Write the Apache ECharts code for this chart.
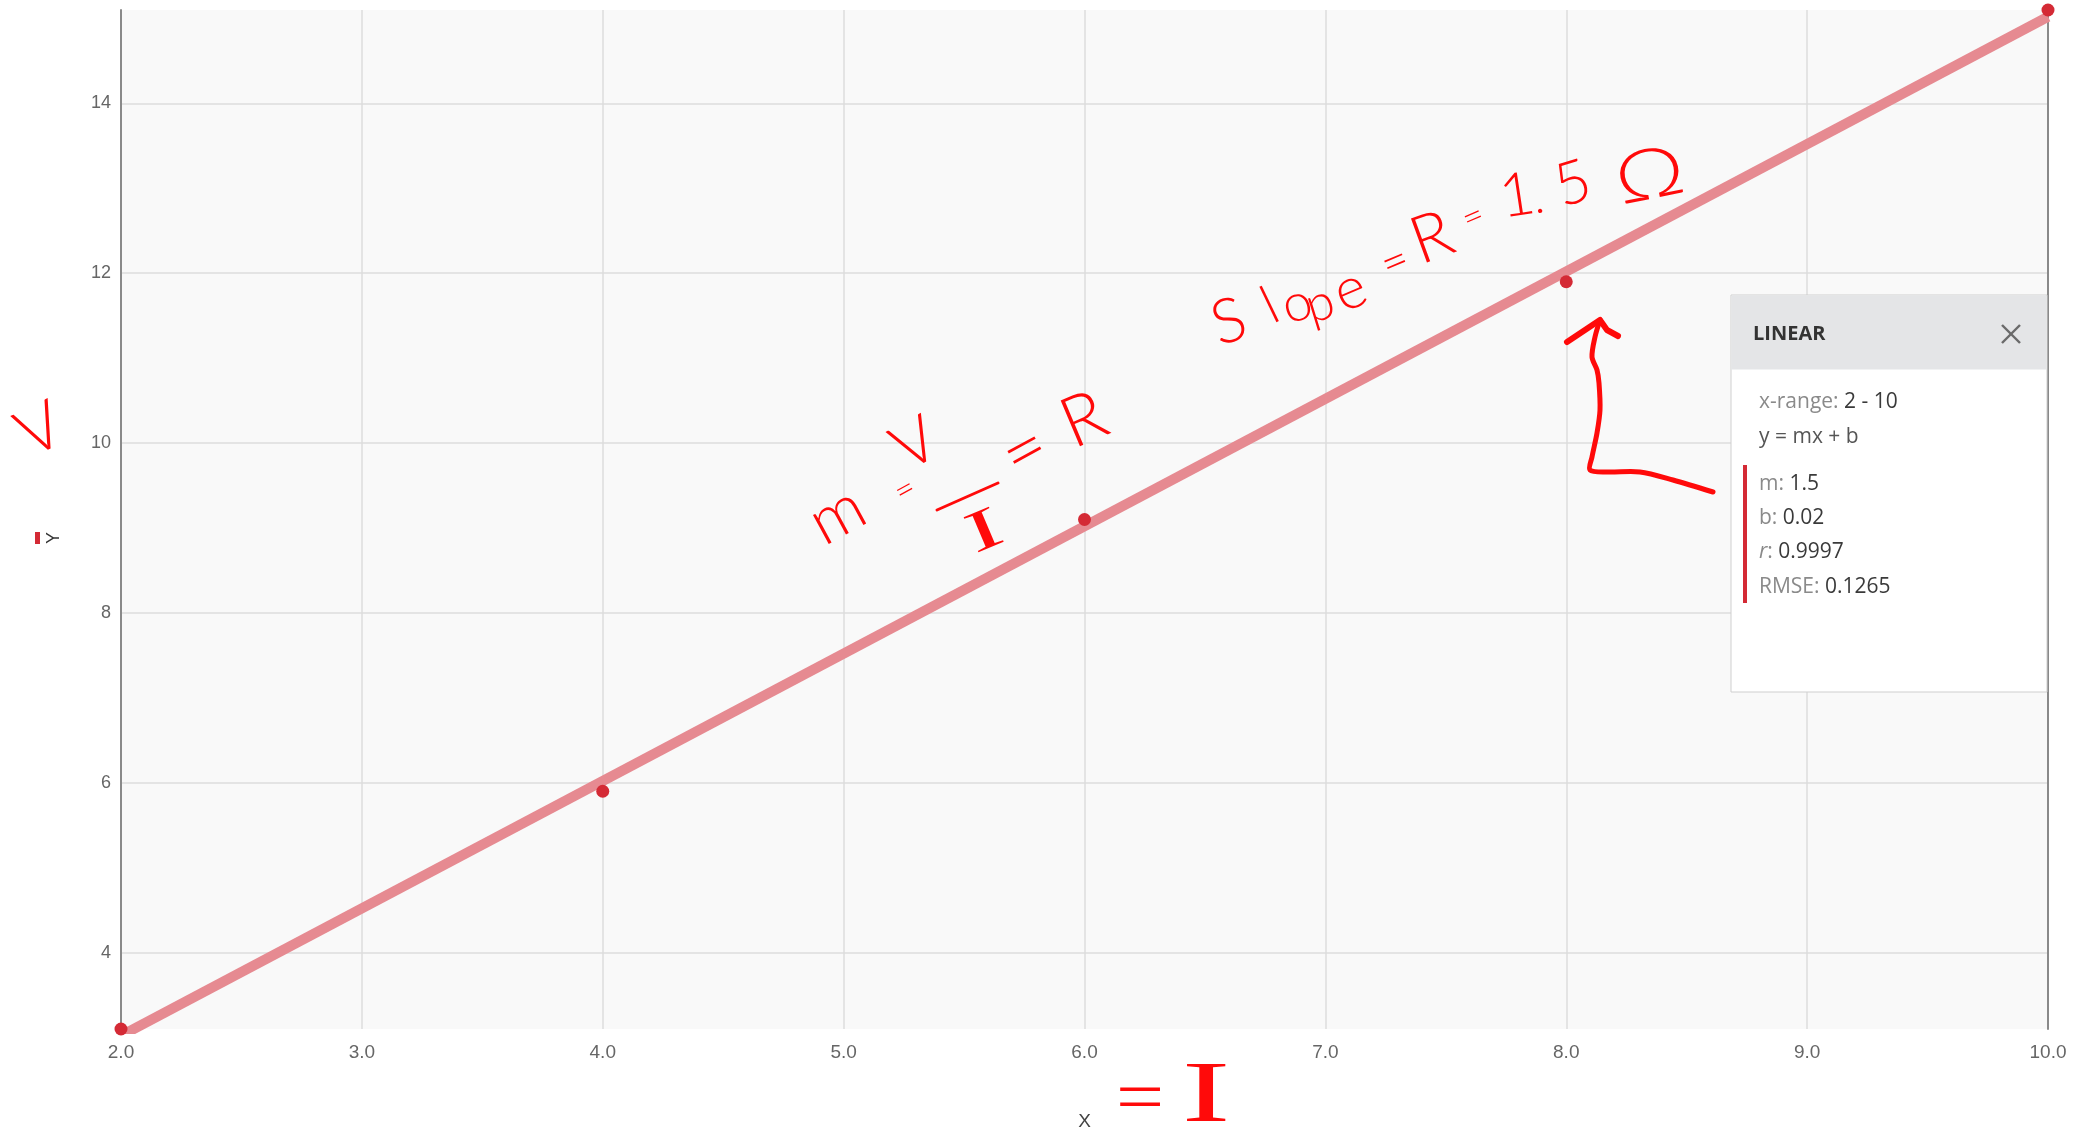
<!DOCTYPE html>
<html>
<head>
<meta charset="utf-8">
<script src="https://cdn.jsdelivr.net/npm/echarts@6/dist/echarts.min.js"></script>
<style>
  html, body { margin: 0; padding: 0; background: #ffffff; }
  #chart { width: 2075px; height: 1139px; }
</style>
</head>
<body>
<div id="chart"></div>
<script>
// Measured current (x) and voltage (y) readings
const xValues = [2, 4, 6, 8, 10];
const yValues = [3.1, 5.9, 9.1, 11.9, 15.1];

// Linear fit results
const fitSlope = 1.5;
const fitIntercept = 0.02;
const fitR = 0.9997;
const fitRmse = 0.1265;

// Axis tick labels
const xTickLabels = ['2.0', '3.0', '4.0', '5.0', '6.0', '7.0', '8.0', '9.0', '10.0'];
const yTickLabels = ['4', '6', '8', '10', '12', '14'];

const xMin = Math.min(...xValues);
const xMax = Math.max(...xValues);
const yMin = Math.min(...yValues);
const yMax = Math.max(...yValues);

const pointData = xValues.map((x, i) => [x, yValues[i]]);
const fitData = [
  [xMin, fitSlope * xMin + fitIntercept],
  [xMax, fitSlope * xMax + fitIntercept]
];

const INK = '#ff0a0a';
const POINT = '#d42a35';
const HAND_FONT = 'Lato, Roboto, "Noto Sans", sans-serif';
const BAR_FONT = '"Liberation Serif", "DejaVu Serif", serif';

// Hand-written notes drawn on top of the plot
const inkGlyphs = [
  // V beside the vertical axis
  { t: 'V', x: 40, y: 430, s: 66, r: 0.45 },
  // m = V / I = R
  { t: 'm', x: 837, y: 515, s: 66, r: 0.5 },
  { t: '=', x: 905, y: 490, s: 34, r: 0.5 },
  { t: 'V', x: 915, y: 444, s: 64, r: 0.5 },
  { t: 'I', x: 985, y: 533, s: 58, r: 0.4, f: BAR_FONT, sx: 1.8 },
  { t: '=', x: 1025, y: 451, s: 74, r: 0.5 },
  { t: 'R', x: 1084, y: 420, s: 70, r: 0.4 },
  // Slope = R = 1.5 Ω
  { t: 'S', x: 1229, y: 322, s: 62, r: 0.3 },
  { t: 'l', x: 1270, y: 306, s: 54, r: 0.45 },
  { t: 'o', x: 1297, y: 304, s: 52, r: 0.3 },
  { t: 'p', x: 1320, y: 304, s: 50, r: 0.3 },
  { t: 'e', x: 1350, y: 290, s: 58, r: 0.4 },
  { t: '=', x: 1395, y: 262, s: 46, r: 0.4 },
  { t: 'R', x: 1432, y: 238, s: 66, r: 0.35 },
  { t: '=', x: 1473, y: 217, s: 36, r: 0.4 },
  { t: '1', x: 1517, y: 196, s: 60, r: 0.15 },
  { t: '.', x: 1540, y: 198, s: 46, r: 0 },
  { t: '5', x: 1573, y: 184, s: 60, r: 0.3 },
  { t: 'Ω', x: 1650, y: 176, s: 70, r: 0.2, sx: 1.25 },
  // = I under the horizontal axis
  { t: '=', x: 1140, y: 1098, s: 96, r: 0 },
  { t: 'I', x: 1206, y: 1098, s: 86, r: 0, f: BAR_FONT, sx: 1.7 }
];

const inkElements = inkGlyphs.map(g => ({
  type: 'text',
  x: g.x,
  y: g.y,
  rotation: g.r,
  scaleX: g.sx || 1,
  z: 200,
  style: {
    text: g.t,
    fill: INK,
    fontSize: g.s,
    fontWeight: g.f ? 'normal' : 300,
    fontFamily: g.f || HAND_FONT,
    textAlign: 'center',
    textVerticalAlign: 'middle',
    align: 'center',
    verticalAlign: 'middle'
  }
}));

// fraction bar of V / I
inkElements.push({
  type: 'line', z: 200,
  shape: { x1: 937, y1: 510, x2: 998, y2: 483 },
  style: { stroke: INK, lineWidth: 3, lineCap: 'round' }
});

// arrow pointing at the (8, 11.9) reading
inkElements.push({
  type: 'polyline', z: 200,
  shape: {
    points: [[1713, 492], [1673, 480], [1640, 472], [1607, 472], [1590, 470], [1592, 457],
             [1597, 433], [1600, 410], [1599, 383], [1597, 370], [1592, 357], [1595, 337], [1600, 320]],
    smooth: 0.3
  },
  style: { stroke: INK, lineWidth: 5, fill: null, lineCap: 'round', lineJoin: 'round' }
});
inkElements.push({
  type: 'polyline', z: 200,
  shape: { points: [[1567, 342], [1600, 320], [1607, 330], [1618, 336]] },
  style: { stroke: INK, lineWidth: 6, fill: null, lineCap: 'round', lineJoin: 'round' }
});

// Fit result panel
const PX = 1731, PY = 295, PW = 316, PH = 397, HH = 74;
const panelFont = '"Open Sans", "Noto Sans", sans-serif';
const FS = 21;
const rich = {
  k: { fill: '#8a8a8a', fontSize: FS, fontFamily: panelFont },
  ki: { fill: '#8a8a8a', fontSize: FS, fontFamily: panelFont, fontStyle: 'italic' },
  v: { fill: '#3a3a3a', fontSize: FS, fontFamily: panelFont },
  e: { fill: '#555555', fontSize: FS, fontFamily: panelFont }
};
const panelLines = [
  { y: 402, text: '{k|x-range: }{v|' + xMin + ' - ' + xMax + '}' },
  { y: 437, text: '{e|y = mx + b}' },
  { y: 484, text: '{k|m: }{v|' + fitSlope + '}' },
  { y: 518, text: '{k|b: }{v|' + fitIntercept + '}' },
  { y: 552, text: '{ki|r}{k|: }{v|' + fitR + '}' },
  { y: 587, text: '{k|RMSE: }{v|' + fitRmse + '}' }
];
const panelElements = [
  { type: 'rect', z: 150, shape: { x: PX, y: PY, width: PW, height: PH },
    style: { fill: '#ffffff', stroke: '#cfcfcf', lineWidth: 1 } },
  { type: 'rect', z: 151, shape: { x: PX + 0.5, y: PY + 0.5, width: PW - 1, height: HH },
    style: { fill: '#e4e5e7' } },
  { type: 'text', z: 152, x: 1753, y: 334,
    style: { text: 'LINEAR', fill: '#333333', fontSize: 20, fontWeight: 'bold', fontFamily: panelFont,
             textAlign: 'left', textVerticalAlign: 'middle', align: 'left', verticalAlign: 'middle' } },
  { type: 'line', z: 152, shape: { x1: 2002, y1: 325, x2: 2020, y2: 343 },
    style: { stroke: '#6a6a6a', lineWidth: 2.4 } },
  { type: 'line', z: 152, shape: { x1: 2020, y1: 325, x2: 2002, y2: 343 },
    style: { stroke: '#6a6a6a', lineWidth: 2.4 } },
  { type: 'rect', z: 152, shape: { x: 1743, y: 465, width: 4, height: 138 },
    style: { fill: POINT } }
].concat(panelLines.map(l => ({
  type: 'text', z: 152, x: 1759, y: l.y,
  style: { text: l.text, rich: rich, textAlign: 'left', textVerticalAlign: 'middle',
           align: 'left', verticalAlign: 'middle' }
})));

const NARROW = '"Liberation Sans Narrow", "Liberation Sans", sans-serif';

// Vertical axis title with its series marker
const axisTitleElements = [
  { type: 'rect', z: 10, shape: { x: 35, y: 532, width: 5, height: 12 }, style: { fill: POINT } },
  { type: 'text', z: 10, x: 54, y: 538, rotation: Math.PI / 2,
    style: { text: 'Y', fill: '#333333', fontSize: 18, fontFamily: NARROW,
             textAlign: 'center', textVerticalAlign: 'middle', align: 'center', verticalAlign: 'middle' } }
];

const chart = echarts.init(document.getElementById('chart'), null, { renderer: 'canvas' });

chart.setOption({
  animation: false,
  backgroundColor: '#ffffff',
  grid: {
    left: 121, right: 27, top: 10, bottom: 110,
    show: true, backgroundColor: '#f9f9f9', borderWidth: 0
  },
  xAxis: {
    type: 'value',
    min: xMin, max: xMax, interval: 1,
    name: 'X',
    nameLocation: 'middle',
    nameGap: 83,
    nameTextStyle: { color: '#444444', fontSize: 19, fontFamily: NARROW },
    axisLine: { show: false },
    axisTick: { show: false },
    axisLabel: {
      margin: 14,
      color: '#666666',
      fontSize: 19,
      fontFamily: NARROW,
      formatter: v => xTickLabels[Math.round(v - xMin)] || ''
    },
    splitLine: { show: true, lineStyle: { color: '#dcdcdc', width: 1.5 } }
  },
  yAxis: [
    {
      type: 'value',
      min: yMin, max: yMax,
      splitNumber: 6,
      axisLine: { show: true, lineStyle: { color: '#8a8a8a', width: 2 } },
      axisTick: { show: false },
      axisLabel: {
        margin: 10,
        color: '#666666',
        fontSize: 18,
        fontFamily: '"Liberation Sans", Arial, sans-serif',
        formatter: v => {
          const s = String(Math.round(v * 1000) / 1000);
          return yTickLabels.indexOf(s) >= 0 ? s : '';
        }
      },
      splitLine: { show: true, showMinLine: false, showMaxLine: false,
                   lineStyle: { color: '#dcdcdc', width: 1.5 } }
    },
    {
      type: 'value',
      position: 'right',
      min: yMin, max: yMax,
      axisLine: { show: true, onZero: false, lineStyle: { color: '#8a8a8a', width: 2 } },
      axisTick: { show: false },
      axisLabel: { show: false },
      splitLine: { show: false }
    }
  ],
  series: [
    {
      name: 'Linear fit',
      type: 'line',
      data: fitData,
      symbol: 'none',
      clip: true,
      z: 3,
      lineStyle: { color: '#e68a91', width: 10, cap: 'butt' },
      silent: true
    },
    {
      name: 'Y',
      type: 'scatter',
      data: pointData,
      symbolSize: 13,
      z: 4,
      itemStyle: { color: POINT, opacity: 1 }
    }
  ],
  graphic: { elements: axisTitleElements.concat(panelElements, inkElements) }
});
</script>
</body>
</html>
